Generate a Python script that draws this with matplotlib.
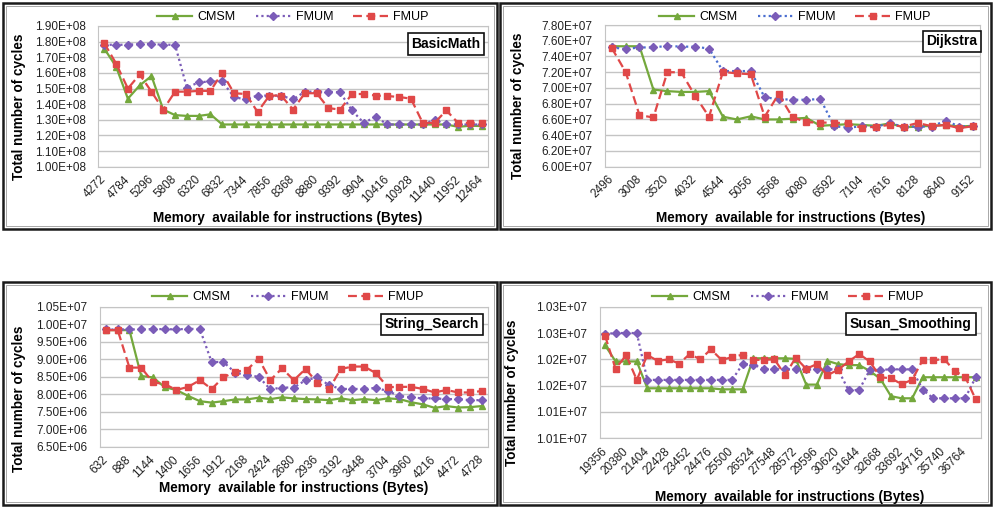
import math
import matplotlib
matplotlib.use("Agg")
import matplotlib.pyplot as plt
from matplotlib.patches import Rectangle
from matplotlib.ticker import FuncFormatter
import numpy as np

plt.rcParams['font.family'] = ['Liberation Sans', 'DejaVu Sans']

W, H = 993, 509

# memory available for instructions (bytes), one entry per simulated configuration
basicmath_mem = list(range(4272, 12465, 256))
dijkstra_mem = list(range(2496, 9153, 256))
stringsearch_mem = list(range(632, 4729, 128))
susan_mem = list(range(19356, 37277, 512))

# total cycles, BasicMath (x 1e8)
basicmath_cmsm = [1.755, 1.64, 1.435, 1.52, 1.58, 1.365, 1.33, 1.325, 1.325, 1.335,
                  1.27, 1.27, 1.27, 1.27, 1.27, 1.27, 1.27, 1.27, 1.27, 1.27,
                  1.27, 1.27, 1.27, 1.27, 1.27, 1.27, 1.27, 1.27, 1.27, 1.27,
                  1.255, 1.262, 1.26]
basicmath_fmum = [1.78, 1.78, 1.78, 1.785, 1.785, 1.78, 1.78, 1.505, 1.54, 1.545,
                  1.545, 1.445, 1.43, 1.455, 1.455, 1.455, 1.43, 1.48, 1.48, 1.48,
                  1.475, 1.36, 1.28, 1.32, 1.27, 1.27, 1.27, 1.27, 1.30, 1.27,
                  1.27, 1.27, 1.27]
basicmath_fmup = [1.79, 1.66, 1.50, 1.59, 1.48, 1.365, 1.48, 1.48, 1.485, 1.485,
                  1.60, 1.47, 1.465, 1.35, 1.455, 1.455, 1.365, 1.47, 1.47, 1.375,
                  1.365, 1.465, 1.465, 1.455, 1.452, 1.446, 1.435, 1.28, 1.28, 1.36,
                  1.28, 1.28, 1.28]

# total cycles, Dijkstra (x 1e7)
dijkstra_cmsm = [7.53, 7.53, 7.53, 6.98, 6.96, 6.95, 6.95, 6.96, 6.635, 6.60,
                 6.64, 6.60, 6.60, 6.61, 6.62, 6.52, 6.53, 6.54, 6.53, 6.52,
                 6.55, 6.50, 6.51, 6.52, 6.53, 6.51, 6.52]
dijkstra_fmum = [7.515, 7.495, 7.515, 7.515, 7.535, 7.525, 7.525, 7.50, 7.215, 7.215,
                 7.215, 6.88, 6.86, 6.85, 6.85, 6.86, 6.515, 6.495, 6.515, 6.51,
                 6.55, 6.51, 6.51, 6.51, 6.585, 6.51, 6.515]
dijkstra_fmup = [7.51, 7.205, 6.655, 6.625, 7.20, 7.20, 6.90, 6.635, 7.205, 7.185,
                 7.175, 6.635, 6.92, 6.63, 6.565, 6.56, 6.56, 6.55, 6.49, 6.51,
                 6.53, 6.51, 6.555, 6.515, 6.53, 6.49, 6.515]

# total cycles, String_Search (x 1e6)
stringsearch_cmsm = [9.83, 9.83, 9.83, 8.52, 8.48, 8.20, 8.12, 7.95, 7.80, 7.76,
                     7.80, 7.85, 7.85, 7.90, 7.86, 7.91, 7.88, 7.86, 7.85, 7.83,
                     7.88, 7.83, 7.86, 7.83, 7.88, 7.86, 7.77, 7.71, 7.61, 7.66,
                     7.62, 7.63, 7.66]
stringsearch_fmum = [9.85, 9.85, 9.85, 9.85, 9.86, 9.86, 9.85, 9.87, 9.86, 8.92,
                     8.92, 8.62, 8.54, 8.50, 8.14, 8.19, 8.19, 8.40, 8.48, 8.26,
                     8.15, 8.15, 8.15, 8.18, 8.09, 7.95, 7.91, 7.88, 7.88, 7.86,
                     7.86, 7.83, 7.83]
stringsearch_fmup = [9.83, 9.83, 8.76, 8.76, 8.34, 8.29, 8.12, 8.21, 8.40, 8.15,
                     8.48, 8.64, 8.69, 9.02, 8.40, 8.74, 8.40, 8.72, 8.33, 8.14,
                     8.72, 8.79, 8.79, 8.60, 8.20, 8.21, 8.21, 8.15, 8.05, 8.12,
                     8.05, 8.05, 8.09]

# total cycles, Susan_Smoothing (x 1e7)
susan_cmsm = [1.0227, 1.0196, 1.0196, 1.0196, 1.0145, 1.0145, 1.0145, 1.0145, 1.0145,
              1.0145, 1.0145, 1.0143, 1.0143, 1.0143, 1.0202, 1.0202, 1.0202, 1.0202,
              1.0201, 1.0152, 1.0152, 1.0197, 1.0191, 1.0189, 1.0189, 1.0178, 1.0163,
              1.0130, 1.0126, 1.0126, 1.0166, 1.0166, 1.0166, 1.0166, 1.0166, 1.0166]
susan_fmum = [1.0248, 1.0250, 1.0250, 1.0250, 1.0161, 1.0161, 1.0161, 1.0161, 1.0161,
              1.0161, 1.0161, 1.0161, 1.0161, 1.0191, 1.0190, 1.0182, 1.0181, 1.0181,
              1.0181, 1.0181, 1.0181, 1.0181, 1.0181, 1.0141, 1.0142, 1.0180, 1.0180,
              1.0181, 1.0181, 1.0181, 1.0142, 1.0126, 1.0126, 1.0126, 1.0126, 1.0166]
susan_fmup = [1.0245, 1.0182, 1.0208, 1.0161, 1.0208, 1.0197, 1.0200, 1.0192, 1.0210,
              1.0200, 1.0219, 1.0199, 1.0204, 1.0209, 1.0199, 1.0199, 1.0200, 1.0170,
              1.0203, 1.0182, 1.0191, 1.0170, 1.0180, 1.0196, 1.0210, 1.0196, 1.0166,
              1.0164, 1.0153, 1.0161, 1.0199, 1.0198, 1.0201, 1.0178, 1.0167, 1.0124]

GREEN = '#74a83c'
PURPLE = '#7b5cb8'
RED = '#e04848'
BLUE = '#4a6ed0'


def px(l, t, r, b):
    return [l / W, 1 - b / H, (r - l) / W, (b - t) / H]


def sci_label(v, pos=None):
    exp = int(math.floor(math.log10(abs(v))))
    m = math.floor(v / 10 ** exp * 100 + 0.5 + 1e-9) / 100
    return f"{m:.2f}E+{exp:02d}"


# name, x values, series, scale, y range, y step, plot box, frame, legend centre, box pos,
# y label pos, x label pos, FMUM line colour
panels = [
    ("BasicMath", basicmath_mem, (basicmath_cmsm, basicmath_fmum, basicmath_fmup), 1e8,
     (1.00e8, 1.90e8), 10,
     (98.4, 26, 487.6, 166.7), (3, 3, 497, 229), (293, 17), (0.982, 0.872),
     (19, 107), (288, 218), PURPLE),
    ("Dijkstra", dijkstra_mem, (dijkstra_cmsm, dijkstra_fmum, dijkstra_fmup), 1e7,
     (6.00e7, 7.80e7), 10,
     (604.7, 25, 980.3, 166.7), (500, 3, 991, 229), (795, 17), (0.9925, 0.884),
     (518, 106), (791, 218), BLUE),
    ("String_Search", stringsearch_mem, (stringsearch_cmsm, stringsearch_fmum, stringsearch_fmup), 1e6,
     (6.50e6, 1.05e7), 9,
     (100.1, 306.7, 487.5, 446.7), (3, 282, 497, 505), (288, 297), (0.979, 0.873),
     (19, 399), (294, 488), PURPLE),
    ("Susan_Smoothing", susan_mem, (susan_cmsm, susan_fmum, susan_fmup), 1e7,
     (1.005e7, 1.030e7), 6,
     (599.7, 306.7, 981, 438.3), (500, 282, 991, 505), (788, 297), (0.976, 0.869),
     (512, 393), (790, 497), PURPLE),
]

fig = plt.figure(figsize=(W / 100, H / 100), dpi=100)

for (name, mem, series, scale, yr, nt, box, frame, leg, tag, ylab, xlab, fmum_col) in panels:
    ax = fig.add_axes(px(*box))
    idx = np.arange(len(mem))
    cmsm, fmum, fmup = [np.array(s) * scale for s in series]

    ax.plot(idx, cmsm, color=GREEN, lw=1.6, marker='^', ms=4.5,
            mfc=GREEN, mec=GREEN, label='CMSM', zorder=3)
    ax.plot(idx, fmum, color=fmum_col, lw=1.6, ls=(0, (1, 1.4)), marker='D', ms=3.6,
            mfc=PURPLE, mec=PURPLE, label='FMUM', zorder=4)
    ax.plot(idx, fmup, color=RED, lw=1.6, ls=(0, (4, 2)), marker='s', ms=4.2,
            mfc=RED, mec=RED, label='FMUP', zorder=5)

    ax.set_xlim(-0.5, len(mem) - 0.5)
    ax.set_ylim(*yr)
    ax.set_yticks(np.linspace(yr[0], yr[1], nt))
    ax.yaxis.set_major_formatter(FuncFormatter(sci_label))
    ax.set_xticks(idx[::2])
    ax.set_xticklabels([str(m) for m in mem[::2]], rotation=45, ha='right',
                       va='center', rotation_mode='anchor')
    ax.tick_params(axis='both', length=0, labelsize=8.5, colors='#222222')
    ax.tick_params(axis='y', pad=9)
    ax.tick_params(axis='x', pad=8)
    ax.yaxis.grid(True, color='#c4c4c4', lw=1.0)
    ax.set_axisbelow(True)
    for sp in ax.spines.values():
        sp.set_color('#c4c4c4')
        sp.set_linewidth(0.8)

    ax.text(tag[0], tag[1], name, transform=ax.transAxes, ha='right', va='center',
            fontsize=10, fontweight='bold', zorder=6,
            bbox=dict(boxstyle='square,pad=0.28', fc='white', ec='#111111', lw=1.2))

    ax.legend(loc='center', bbox_to_anchor=(leg[0] / W, 1 - leg[1] / H),
              bbox_transform=fig.transFigure, ncol=3, frameon=False, fontsize=9,
              handlelength=2.8, handletextpad=0.4, columnspacing=1.6, numpoints=1,
              borderaxespad=0, borderpad=0)

    fig.text(ylab[0] / W, 1 - ylab[1] / H, 'Total number of cycles', rotation=90,
             ha='center', va='center', fontsize=9.75, fontweight='bold')
    fig.text(xlab[0] / W, 1 - xlab[1] / H, 'Memory  available for instructions (Bytes)',
             ha='center', va='center', fontsize=9.75, fontweight='bold')

    x0, y0, x1, y1 = frame
    fig.add_artist(Rectangle((x0 / W, 1 - y1 / H), (x1 - x0) / W, (y1 - y0) / H,
                             transform=fig.transFigure, fill=False, lw=1.8, ec='#1a1a1a'))
    fig.add_artist(Rectangle(((x0 + 3) / W, 1 - (y1 - 3) / H), (x1 - x0 - 6) / W,
                             (y1 - y0 - 6) / H, transform=fig.transFigure, fill=False,
                             lw=0.6, ec='#9a9a9a'))

fig.savefig('out.png', dpi=100)
